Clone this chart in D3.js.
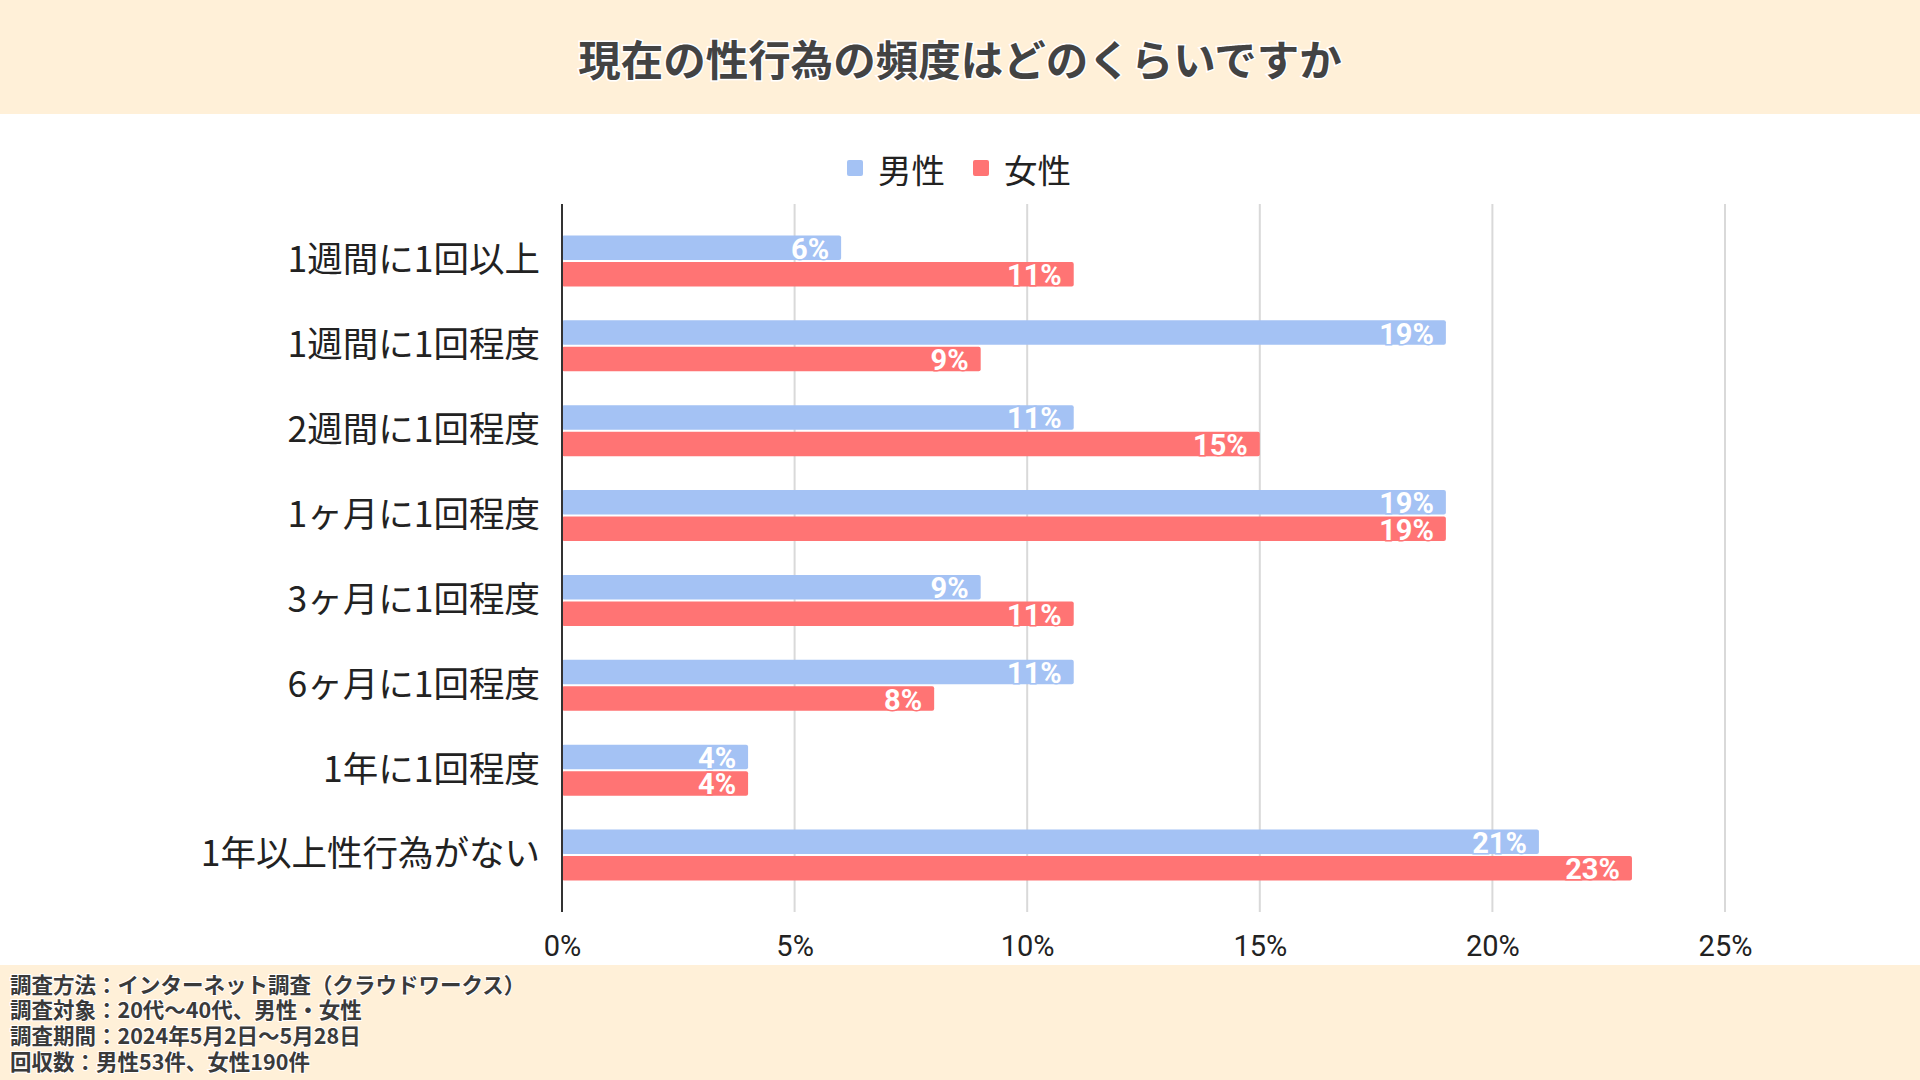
<!DOCTYPE html>
<html>
<head>
<meta charset="utf-8">
<script src="https://cdn.jsdelivr.net/npm/d3@7"></script>
<style>
  html, body { margin: 0; padding: 0; background: #ffffff; }
  svg { display: block; }
</style>
</head>
<body>
<div id="chart"></div>
<script>
const W = 1920, H = 1080;

const categories = ["1週間に1回以上", "1週間に1回程度", "2週間に1回程度", "1ヶ月に1回程度",
                    "3ヶ月に1回程度", "6ヶ月に1回程度", "1年に1回程度", "1年以上性行為がない"];
const seriesNames = ["男性", "女性"];
const male   = [6, 19, 11, 19, 9, 11, 4, 21];
const female = [11, 9, 15, 19, 11, 8, 4, 23];
const ticks = [0, 5, 10, 15, 20, 25];
const footnotes = ["調査方法：インターネット調査（クラウドワークス）",
                   "調査対象：20代〜40代、男性・女性",
                   "調査期間：2024年5月2日〜5月28日",
                   "回収数：男性53件、女性190件"];
const colors = ["#a4c2f4", "#ff7474"];

const cream = "#fff0d8";
const jp = "'Noto Sans CJK JP', 'Noto Sans', sans-serif";

const svg = d3.select("#chart").append("svg")
    .attr("width", W)
    .attr("height", H);

// header & footer bands
svg.append("rect").attr("x", 0).attr("y", 0).attr("width", W).attr("height", 114).attr("fill", cream);
svg.append("rect").attr("x", 0).attr("y", 965).attr("width", W).attr("height", H - 965).attr("fill", cream);

svg.append("text")
    .text("現在の性行為の頻度はどのくらいですか")
    .attr("x", W / 2)
    .attr("y", 57)
    .attr("text-anchor", "middle")
    .attr("dominant-baseline", "central")
    .attr("font-family", jp)
    .attr("font-weight", 700)
    .attr("font-size", 42.5)
    .attr("fill", "#434343")
    .attr("stroke", "#ffffff")
    .attr("stroke-width", 3)
    .attr("paint-order", "stroke");

// legend
const legend = svg.append("g").attr("class", "legend");
const legendX = [847, 973];
seriesNames.forEach(function(name, i){
    legend.append("rect")
        .attr("x", legendX[i])
        .attr("y", 160)
        .attr("width", 16)
        .attr("height", 16)
        .attr("rx", 2)
        .attr("fill", colors[i]);
    legend.append("text")
        .text(name)
        .attr("x", legendX[i] + 31)
        .attr("y", 168)
        .attr("dominant-baseline", "central")
        .attr("font-family", jp)
        .attr("font-size", 33.5)
        .attr("fill", "#222222");
});

// scales
const x = d3.scaleLinear().domain([0, 25]).range([562, 1725]);
const y0 = d3.scaleBand().domain(categories).range([218.5, 897.5]).paddingInner(0.4).paddingOuter(0.2);
const y1 = d3.scaleBand().domain(seriesNames).range([0, y0.bandwidth()]).paddingInner(0.08);

// gridlines
svg.append("g").attr("class", "grid")
    .selectAll("line")
    .data(ticks.slice(1))
    .enter()
    .append("line")
    .attr("x1", function(d){ return x(d); })
    .attr("x2", function(d){ return x(d); })
    .attr("y1", 204)
    .attr("y2", 912)
    .attr("stroke", "#d9d9d9")
    .attr("stroke-width", 2);

// x tick labels
const xAxis = d3.axisBottom(x).tickValues(ticks).tickSize(0).tickFormat(function(d){ return d + "%"; });
const gx = svg.append("g").attr("transform", "translate(0,932)").call(xAxis);
gx.select(".domain").remove();
gx.selectAll("text")
    .attr("font-family", "Roboto, sans-serif")
    .attr("font-size", 29)
    .attr("fill", "#222222");

// y category labels
const yAxis = d3.axisLeft(y0).tickSize(0).tickPadding(0);
const gy = svg.append("g").attr("transform", "translate(540,0)").call(yAxis);
gy.select(".domain").remove();
gy.selectAll("text")
    .attr("font-family", jp)
    .attr("font-size", 35.5)
    .attr("fill", "#222222");

// bars
const rows = categories.map(function(c, i){
    return { cat: c, values: [male[i], female[i]] };
});

const groups = svg.append("g").attr("class", "bars")
    .selectAll("g")
    .data(rows)
    .enter()
    .append("g")
    .attr("transform", function(d){ return "translate(0," + y0(d.cat) + ")"; });

const cells = groups.selectAll("g")
    .data(function(d){
        return d.values.map(function(v, j){ return { name: seriesNames[j], value: v, idx: j }; });
    })
    .enter()
    .append("g");

cells.append("rect")
    .attr("x", x(0))
    .attr("y", function(d){ return y1(d.name); })
    .attr("width", function(d){ return x(d.value) - x(0); })
    .attr("height", y1.bandwidth())
    .attr("rx", 2)
    .attr("fill", function(d){ return colors[d.idx]; });

cells.append("text")
    .text(function(d){ return d.value + "%"; })
    .attr("x", function(d){ return x(d.value) - 12; })
    .attr("y", function(d){ return y1(d.name) + y1.bandwidth() / 2 + 1; })
    .attr("text-anchor", "end")
    .attr("dominant-baseline", "central")
    .attr("font-family", "Roboto, sans-serif")
    .attr("font-weight", 700)
    .attr("font-size", 29)
    .attr("fill", "#ffffff")
    .attr("stroke", function(d){ return colors[d.idx]; })
    .attr("stroke-width", 3)
    .attr("paint-order", "stroke");

// zero axis line
svg.append("line")
    .attr("x1", x(0)).attr("x2", x(0))
    .attr("y1", 204).attr("y2", 912)
    .attr("stroke", "#333333")
    .attr("stroke-width", 2);

// footnotes
svg.append("g").attr("class", "notes")
    .selectAll("text")
    .data(footnotes)
    .enter()
    .append("text")
    .text(function(d){ return d; })
    .attr("x", 10)
    .attr("y", function(d, i){ return 983 + i * 25.7; })
    .attr("dominant-baseline", "central")
    .attr("font-family", jp)
    .attr("font-weight", 700)
    .attr("font-size", 21.5)
    .attr("fill", "#3a3a3a")
    .attr("stroke", "#ffffff")
    .attr("stroke-width", 2)
    .attr("paint-order", "stroke");
</script>
</body>
</html>
